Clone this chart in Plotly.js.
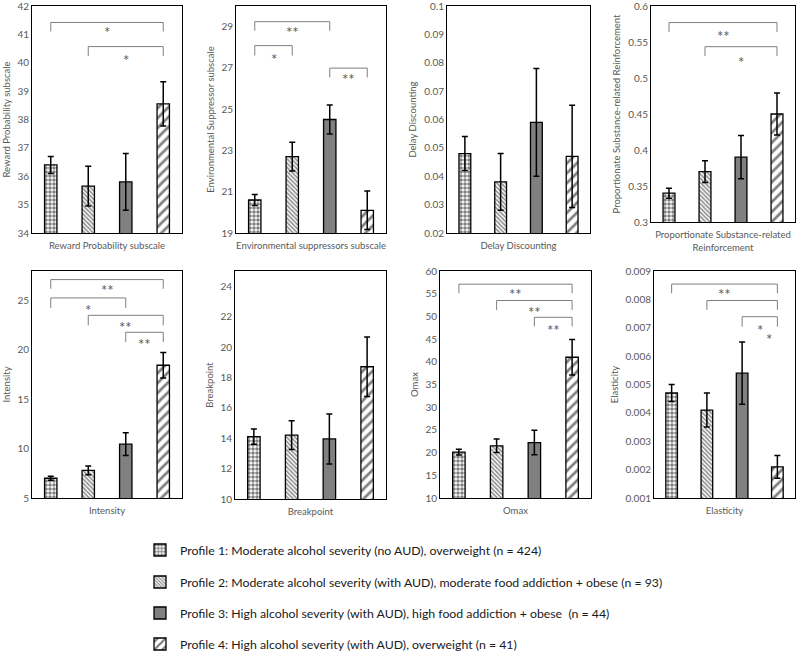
<!DOCTYPE html>
<html>
<head>
<meta charset="utf-8">
<script src="https://cdn.plot.ly/plotly-3.0.1.min.js"></script>
<style>html,body{margin:0;padding:0;background:#fff;}#chart{width:800px;height:652px;}</style>
</head>
<body>
<div id="chart"></div>
<script>
// ---------- DATA ----------
const profiles = [
  "Profile 1: Moderate alcohol severity (no AUD), overweight (n = 424)",
  "Profile 2: Moderate alcohol severity (with AUD), moderate food addiction + obese (n = 93)",
  "Profile 3: High alcohol severity (with AUD), high food addiction + obese  (n = 44)",
  "Profile 4: High alcohol severity (with AUD), overweight (n = 41)"
];
const profileIndex = [0, 1, 2, 3];

const measureLabels = [
  "Reward Probability subscale",
  "Environmental suppressors subscale",
  "Delay Discounting",
  "Proportionate Substance-related<br>Reinforcement",
  "Intensity",
  "Breakpoint",
  "Omax",
  "Elasticity"
];
const yTitles = [
  "Reward Probability subscale",
  "Environmental Suppressor subscale",
  "Delay Discounting",
  "Proportionate Substance-related Reinforcement",
  "Intensity",
  "Breakpoint",
  "Omax",
  "Elasticity"
];

const rewardProb = [36.4, 35.65, 35.8, 38.55];
const rewardProbErr = [0.3, 0.7, 1.0, 0.78];
const envSupp = [20.6, 22.7, 24.5, 20.1];
const envSuppErr = [0.27, 0.7, 0.7, 0.93];
const delayDisc = [0.048, 0.038, 0.059, 0.047];
const delayDiscErr = [0.006, 0.010, 0.019, 0.018];
const propReinf = [0.34, 0.37, 0.39, 0.45];
const propReinfErr = [0.007, 0.015, 0.03, 0.029];
const intensity = [7.0, 7.8, 10.45, 18.45];
const intensityErr = [0.2, 0.44, 1.15, 1.3];
const breakpoint = [14.1, 14.2, 13.95, 18.7];
const breakpointErr = [0.5, 0.95, 1.65, 1.95];
const omax = [20.1, 21.5, 22.2, 41.0];
const omaxErr = [0.65, 1.5, 2.7, 3.9];
const elasticity = [0.0047, 0.0041, 0.0054, 0.0021];
const elasticityErr = [0.0003, 0.0006, 0.0011, 0.0004];

const yRanges = [[34, 42], [19, 30], [0.02, 0.1], [0.3, 0.6], [5, 28], [10, 25], [10, 60], [0.001, 0.009]];
const yDticks = [1, 2, 0.01, 0.05, 5, 2, 5, 0.001];

// significance comparisons: [fromProfile, toProfile, bracketTop, bracketEnd, label, labelY]
const sigReward = [[0, 3, 41.42, 41.1, "*", 41.2], [1, 3, 40.57, 40.24, "*", 40.22]];
const sigEnv = [[0, 2, 29.24, 28.8, "**", 28.9], [0, 1, 28.08, 27.6, "*", 27.6], [2, 3, 26.99, 26.54, "**", 26.6]];
const sigDelay = [];
const sigProp = [[0, 3, 0.577, 0.564, "**", 0.563], [1, 3, 0.5435, 0.5306, "*", 0.526]];
const sigIntensity = [[0, 3, 27.13, 26.2, "**", 26.35], [0, 2, 25.27, 24.26, "*", 24.4], [1, 3, 23.51, 22.5, "**", 22.6], [2, 3, 21.79, 20.8, "**", 20.88]];
const sigBreak = [];
const sigOmax = [[0, 3, 57.1, 55.1, "**", 55.6], [1, 3, 53.5, 51.4, "**", 51.7], [2, 3, 49.8, 47.8, "**", 47.75]];
const sigElast = [[0, 3, 0.00854, 0.00821, "**", 0.0083], [1, 3, 0.00796, 0.00763, "", 0], [2, 3, 0.00739, 0.00704, "*", 0.00704]];
// extra star (drawn off-centre in the original): [panel, x, y, label]
const extraStars = [[7, 2.76, 0.00672, "*"]];

const panelValues = [rewardProb, envSupp, delayDisc, propReinf, intensity, breakpoint, omax, elasticity];
const panelErrors = [rewardProbErr, envSuppErr, delayDiscErr, propReinfErr, intensityErr, breakpointErr, omaxErr, elasticityErr];
const panelSig = [sigReward, sigEnv, sigDelay, sigProp, sigIntensity, sigBreak, sigOmax, sigElast];

// ---------- STYLE ----------
const FONT = "Lato, Liberation Sans, Arial, sans-serif";
const GREY = "#595959";
const patterns = [
  {shape: ".", size: 4, solidity: 0.62, fgcolor: "#000", bgcolor: "#fff", fillmode: "overlay"},
  {shape: "\\", size: 3, solidity: 0.55, fgcolor: "#222", bgcolor: "#fff", fillmode: "overlay"},
  null,
  {shape: "/", size: 7, solidity: 0.38, fgcolor: "#000", bgcolor: "#fff", fillmode: "overlay"}
];
const fills = ["#fff", "#fff", "#808080", "#fff"];

// panel boxes in pixels [left, top, right, bottom]
const boxes = [
  [32, 6, 182, 233], [236, 6, 386, 233], [447, 6, 590, 233], [651, 6, 795, 222],
  [32, 271, 182, 498], [235, 271, 386, 499], [440, 271, 591, 498], [654, 271, 795, 498]
];
const legendRows = [550, 582, 613, 644];
const W = 800, H = 652;

const traces = [];
const layout = {
  width: W, height: H,
  margin: {l: 0, r: 0, t: 0, b: 0, autoexpand: false},
  paper_bgcolor: "#fff", plot_bgcolor: "#fff",
  barmode: "overlay",
  font: {family: FONT, color: GREY, size: 10},
  showlegend: true,
  shapes: [], annotations: []
};
profiles.forEach((name, k) => {
  const key = k === 0 ? "legend" : "legend" + (k + 1);
  layout[key] = {
    x: 140 / W, xanchor: "left", y: 1 - legendRows[k] / H, yanchor: "middle",
    font: {family: FONT, size: 12.3, color: "#1a1a1a"},
    bgcolor: "rgba(0,0,0,0)", itemclick: false, borderwidth: 0
  };
});

for (let p = 0; p < 8; p++) {
  const ax = p === 0 ? "" : String(p + 1);
  const b = boxes[p];
  const span = yRanges[p][1] - yRanges[p][0];
  for (let k = 0; k < 4; k++) {
    const marker = {color: fills[k], line: {color: "#000", width: 1.3}};
    if (patterns[k]) marker.pattern = patterns[k];
    traces.push({
      type: "bar",
      x: [profileIndex[k]], y: [panelValues[p][k]],
      base: 0,
      width: 0.33,
      xaxis: "x" + ax, yaxis: "y" + ax,
      name: profiles[k], legendgroup: "g" + k,
      legend: k === 0 ? "legend" : "legend" + (k + 1),
      showlegend: p === 0,
      marker: marker,
      error_y: {type: "data", array: [panelErrors[p][k]], visible: true, color: "#000", thickness: 1.5, width: 3},
      hoverinfo: "skip"
    });
  }
  layout["xaxis" + ax] = {
    domain: [b[0] / W, b[2] / W], anchor: "y" + ax,
    range: [-0.5, 3.5], showticklabels: false, ticks: "",
    showgrid: false, zeroline: false,
    showline: true, mirror: true, linecolor: "#000", linewidth: 1,
    title: {text: measureLabels[p], font: {size: 9.5, color: GREY}, standoff: 9}
  };
  layout["yaxis" + ax] = {
    domain: [1 - b[3] / H, 1 - b[1] / H], anchor: "x" + ax,
    range: [yRanges[p][0], yRanges[p][1] + span * 1e-6], tick0: yRanges[p][0], dtick: yDticks[p],
    ticks: "", showgrid: false, zeroline: false, ticklabeloverflow: "allow",
    showline: true, mirror: true, linecolor: "#000", linewidth: 1,
    tickfont: {size: 10, color: GREY},
    title: {text: yTitles[p], font: {size: 9.5, color: GREY}, standoff: 5}
  };
  panelSig[p].forEach(s => {
    layout.shapes.push({
      type: "path", xref: "x" + ax, yref: "y" + ax,
      path: `M ${s[0]},${s[3]} L ${s[0]},${s[2]} L ${s[1]},${s[2]} L ${s[1]},${s[3]}`,
      line: {color: "#7f7f7f", width: 1}
    });
    if (s[4]) {
      layout.annotations.push({
        xref: "x" + ax, yref: "y" + ax, x: (s[0] + s[1]) / 2, y: s[5],
        text: s[4], showarrow: false, yanchor: "middle", yshift: -3,
        font: {size: 15, color: GREY, family: FONT}
      });
    }
  });
}
extraStars.forEach(e => {
  const ax = String(e[0] + 1);
  layout.annotations.push({
    xref: "x" + ax, yref: "y" + ax, x: e[1], y: e[2], text: e[3], showarrow: false,
    yanchor: "middle", yshift: -3,
    font: {size: 15, color: GREY, family: FONT}
  });
});

Plotly.newPlot("chart", traces, layout, {staticPlot: true});
</script>
</body>
</html>
